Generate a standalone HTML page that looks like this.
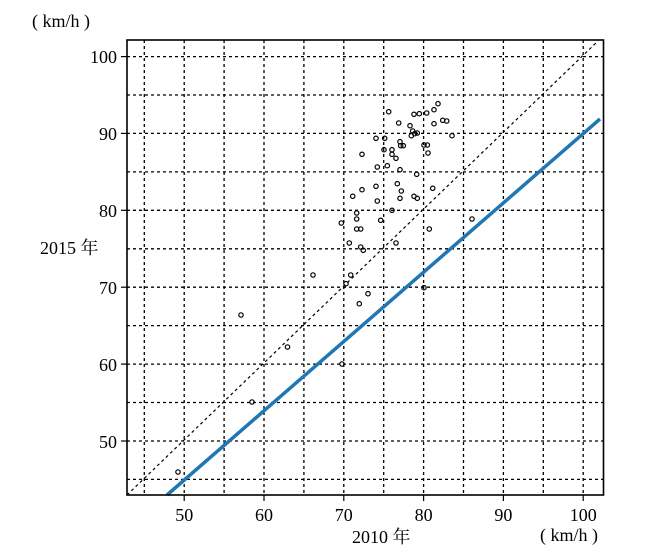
<!DOCTYPE html>
<html><head><meta charset="utf-8"><style>body{margin:0;background:#fff}svg{display:block}text{font-family:"Liberation Serif","Noto Serif CJK SC",serif;font-size:18px;fill:#000}</style></head><body>
<svg width="658" height="557" viewBox="0 0 658 557" xmlns="http://www.w3.org/2000/svg">
<g stroke="#000" stroke-width="1.3" stroke-dasharray="3,3">
<line x1="144.3" y1="40" x2="144.3" y2="495"/><line x1="184.2" y1="40" x2="184.2" y2="495"/><line x1="224.1" y1="40" x2="224.1" y2="495"/><line x1="264" y1="40" x2="264" y2="495"/><line x1="303.9" y1="40" x2="303.9" y2="495"/><line x1="343.8" y1="40" x2="343.8" y2="495"/><line x1="383.7" y1="40" x2="383.7" y2="495"/><line x1="423.6" y1="40" x2="423.6" y2="495"/><line x1="463.5" y1="40" x2="463.5" y2="495"/><line x1="503.4" y1="40" x2="503.4" y2="495"/><line x1="543.3" y1="40" x2="543.3" y2="495"/><line x1="583.2" y1="40" x2="583.2" y2="495"/>
<line x1="127" y1="56.6" x2="603" y2="56.6"/><line x1="127" y1="95" x2="603" y2="95"/><line x1="127" y1="133.4" x2="603" y2="133.4"/><line x1="127" y1="171.9" x2="603" y2="171.9"/><line x1="127" y1="210.3" x2="603" y2="210.3"/><line x1="127" y1="248.8" x2="603" y2="248.8"/><line x1="127" y1="287.2" x2="603" y2="287.2"/><line x1="127" y1="325.6" x2="603" y2="325.6"/><line x1="127" y1="364.1" x2="603" y2="364.1"/><line x1="127" y1="402.5" x2="603" y2="402.5"/><line x1="127" y1="441" x2="603" y2="441"/><line x1="127" y1="479.4" x2="603" y2="479.4"/>
</g>
<line x1="127" y1="495" x2="598" y2="41" stroke="#000" stroke-width="1.2" stroke-dasharray="3,3"/>
<line x1="167" y1="495" x2="600" y2="119" stroke="#1f77b4" stroke-width="3.5"/>
<g fill="none" stroke="#000" stroke-width="1.2">
<circle cx="388.7" cy="111.7" r="2.2"/><circle cx="414" cy="114.3" r="2.2"/><circle cx="419.3" cy="113.7" r="2.2"/><circle cx="426.7" cy="113" r="2.2"/><circle cx="434" cy="109.7" r="2.2"/><circle cx="438" cy="103.7" r="2.2"/><circle cx="398.7" cy="123" r="2.2"/><circle cx="410" cy="125.7" r="2.2"/><circle cx="434" cy="123.7" r="2.2"/><circle cx="442.7" cy="120.3" r="2.2"/><circle cx="446.7" cy="121" r="2.2"/><circle cx="412.7" cy="131" r="2.2"/><circle cx="417.3" cy="133" r="2.2"/><circle cx="411.3" cy="135.7" r="2.2"/><circle cx="414.7" cy="133.7" r="2.2"/><circle cx="452" cy="135.7" r="2.2"/><circle cx="376" cy="138.3" r="2.2"/><circle cx="384.7" cy="138.3" r="2.2"/><circle cx="400" cy="141.7" r="2.2"/><circle cx="400.7" cy="145.7" r="2.2"/><circle cx="403.3" cy="145.7" r="2.2"/><circle cx="424" cy="145" r="2.2"/><circle cx="427.3" cy="145" r="2.2"/><circle cx="362" cy="154.3" r="2.2"/><circle cx="384" cy="149.7" r="2.2"/><circle cx="392" cy="149.7" r="2.2"/><circle cx="392" cy="154.3" r="2.2"/><circle cx="396" cy="158.3" r="2.2"/><circle cx="428" cy="153" r="2.2"/><circle cx="377.3" cy="167" r="2.2"/><circle cx="387.3" cy="165.7" r="2.2"/><circle cx="400" cy="169.7" r="2.2"/><circle cx="416.7" cy="174.3" r="2.2"/><circle cx="376" cy="186.3" r="2.2"/><circle cx="362" cy="189.7" r="2.2"/><circle cx="352.7" cy="196.3" r="2.2"/><circle cx="397.3" cy="183.7" r="2.2"/><circle cx="401.3" cy="191" r="2.2"/><circle cx="432.7" cy="188.3" r="2.2"/><circle cx="377.3" cy="201" r="2.2"/><circle cx="400" cy="198.3" r="2.2"/><circle cx="414" cy="196.3" r="2.2"/><circle cx="417.3" cy="198.3" r="2.2"/><circle cx="392" cy="210.3" r="2.2"/><circle cx="356.7" cy="213" r="2.2"/><circle cx="356.7" cy="219" r="2.2"/><circle cx="341.3" cy="223" r="2.2"/><circle cx="380.7" cy="220.3" r="2.2"/><circle cx="472" cy="219" r="2.2"/><circle cx="356.7" cy="229" r="2.2"/><circle cx="360.7" cy="229" r="2.2"/><circle cx="429.3" cy="229" r="2.2"/><circle cx="349.3" cy="243" r="2.2"/><circle cx="396" cy="243" r="2.2"/><circle cx="360.7" cy="247" r="2.2"/><circle cx="363.3" cy="250.3" r="2.2"/><circle cx="350.7" cy="275" r="2.2"/><circle cx="346" cy="283.7" r="2.2"/><circle cx="368" cy="293.7" r="2.2"/><circle cx="359.3" cy="303.7" r="2.2"/><circle cx="424" cy="287.7" r="2.2"/><circle cx="313" cy="275" r="2.2"/><circle cx="241" cy="315" r="2.2"/><circle cx="287.5" cy="347" r="2.2"/><circle cx="342" cy="364" r="2.2"/><circle cx="252" cy="402" r="2.2"/><circle cx="178" cy="472" r="2.2"/>
</g>
<rect x="127" y="40" width="476.5" height="455" fill="none" stroke="#000" stroke-width="1.6"/>
<g stroke="#000" stroke-width="1.2">
<line x1="121" y1="56.6" x2="127" y2="56.6"/><line x1="121" y1="133.4" x2="127" y2="133.4"/><line x1="121" y1="210.3" x2="127" y2="210.3"/><line x1="121" y1="287.2" x2="127" y2="287.2"/><line x1="121" y1="364.1" x2="127" y2="364.1"/><line x1="121" y1="441" x2="127" y2="441"/>
<line x1="184.2" y1="495" x2="184.2" y2="501"/><line x1="264" y1="495" x2="264" y2="501"/><line x1="343.8" y1="495" x2="343.8" y2="501"/><line x1="423.6" y1="495" x2="423.6" y2="501"/><line x1="503.4" y1="495" x2="503.4" y2="501"/><line x1="583.2" y1="495" x2="583.2" y2="501"/>
</g>
<g text-anchor="end"><text x="117" y="63">100</text><text x="117" y="140">90</text><text x="117" y="217">80</text><text x="117" y="294">70</text><text x="117" y="371">60</text><text x="117" y="448">50</text></g>
<g text-anchor="middle"><text x="184.2" y="521">50</text><text x="264" y="521">60</text><text x="343.8" y="521">70</text><text x="423.6" y="521">80</text><text x="503.4" y="521">90</text><text x="583.2" y="521">100</text></g>
<text x="32" y="27">( km/h )</text>
<text x="40" y="254">2015 年</text>
<text x="352" y="543">2010 年</text>
<text x="540" y="541">( km/h )</text>
</svg>
</body></html>
